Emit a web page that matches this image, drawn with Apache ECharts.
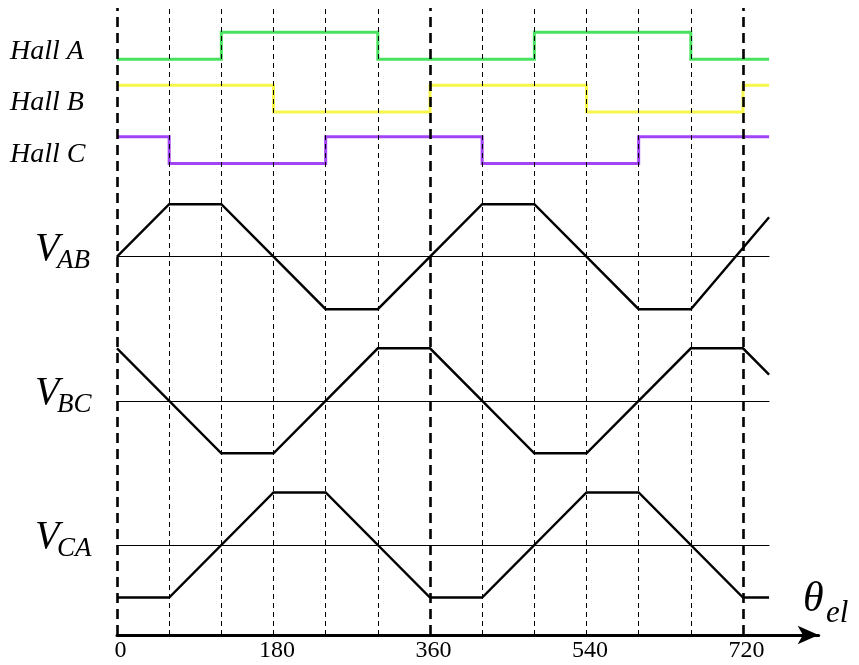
<!DOCTYPE html>
<html>
<head>
<meta charset="utf-8">
<script src="https://cdn.jsdelivr.net/npm/echarts@6/dist/echarts.min.js"></script>
<style>
  html, body { margin: 0; padding: 0; background: #fff; }
  #chart { width: 859px; height: 665px; }
</style>
</head>
<body>
<div id="chart"></div>
<script>
// ---- data (electrical angle in degrees, logic levels / normalised voltages) ----
const hallA = [[0,0],[120,1],[300,0],[480,1],[660,0],[750,0]];
const hallB = [[0,1],[180,0],[360,1],[540,0],[720,1],[750,1]];
const hallC = [[0,1],[60,0],[240,1],[420,0],[600,1],[750,1]];
const vAB = [[0,0],[60,1],[120,1],[240,-1],[300,-1],[420,1],[480,1],[600,-1],[660,-1],[750,0.75]];
const vBC = [[0,1],[120,-1],[180,-1],[300,1],[360,1],[480,-1],[540,-1],[660,1],[720,1],[750,0.5]];
const vCA = [[0,-1],[60,-1],[180,1],[240,1],[360,-1],[420,-1],[540,1],[600,1],[720,-1],[750,-1]];
const gridLines = [0,60,120,180,240,300,360,420,480,540,600,660,720];
const tickLabels = [0,180,360,540,720];
const hallNames = ['Hall A','Hall B','Hall C'];
const voltNames = [['V','AB'],['V','BC'],['V','CA']];

// ---- layout ----
const LEFT = 117;
const PX = 626 / 720;           // pixels per degree
const DATA_MAX = 750;
const AXIS_MAX = 807;
const SERIF = 'Liberation Serif';
const hallColors = ['#48e35e', '#f7f64a', '#a244f5'];

const traces = [
  { data: hallA, top: 32.3, height: 27, min: 0, max: 1, color: hallColors[0], width: 3, step: 'end', base: false },
  { data: hallB, top: 85.3, height: 26.7, min: 0, max: 1, color: hallColors[1], width: 3, step: 'end', base: false },
  { data: hallC, top: 136.7, height: 26.7, min: 0, max: 1, color: hallColors[2], width: 3, step: 'end', base: false },
  { data: vAB, top: 256.7 - 52.5, height: 105, min: -1, max: 1, color: '#000', width: 2.4, step: false, base: true },
  { data: vBC, top: 400.8 - 52.5, height: 105, min: -1, max: 1, color: '#000', width: 2.4, step: false, base: true },
  { data: vCA, top: 545 - 52.5, height: 105, min: -1, max: 1, color: '#000', width: 2.4, step: false, base: true }
];

const grids = [], xAxes = [], yAxes = [], series = [];
traces.forEach((t, i) => {
  grids.push({ left: LEFT, top: t.top, width: DATA_MAX * PX, height: t.height, containLabel: false });
  xAxes.push({
    gridIndex: i, type: 'value', min: 0, max: DATA_MAX,
    show: t.base,
    axisLine: { show: t.base, onZero: true, lineStyle: { color: '#000', width: 1 } },
    axisTick: { show: false }, axisLabel: { show: false }, splitLine: { show: false }
  });
  yAxes.push({ gridIndex: i, type: 'value', min: t.min, max: t.max, show: false, splitLine: { show: false } });
  series.push({
    type: 'line', xAxisIndex: i, yAxisIndex: i, data: t.data, step: t.step,
    showSymbol: false, symbol: 'none', clip: false, silent: true, animation: false,
    lineStyle: { color: t.color, width: t.width, join: 'miter', cap: 'butt' }, z: 3
  });
});

// full-height grid: dashed guides + main axis with arrow
const F = traces.length;
grids.push({ left: LEFT, top: 8, width: AXIS_MAX * PX, bottom: 30, containLabel: false });
xAxes.push({
  gridIndex: F, type: 'value', min: 0, max: AXIS_MAX, interval: 180,
  axisLine: { show: true, onZero: false, symbol: ['none', 'arrow'], symbolSize: [14, 21],
              lineStyle: { color: '#000', width: 3 } },
  axisTick: { show: false },
  splitLine: { show: false },
  axisLabel: {
    show: true, margin: 4, color: '#000', fontSize: 24, fontFamily: SERIF,
    padding: [0, 0, 0, 7],
    formatter: v => tickLabels.indexOf(v) >= 0 ? String(v) : ''
  }
});
yAxes.push({ gridIndex: F, type: 'value', min: 0, max: 1, show: false, splitLine: { show: false } });
series.push({
  type: 'line', xAxisIndex: F, yAxisIndex: F, data: [], silent: true, animation: false, z: 10,
  markLine: {
    silent: true, animation: false, symbol: ['none', 'none'], label: { show: false },
    data: gridLines.map(v => ({
      xAxis: v,
      lineStyle: v % 360 === 0
        ? { color: '#000', width: 2.6, type: [10, 6] }
        : { color: '#000', width: 1, type: [5, 4] }
    }))
  }
});

// text labels
function txt(str, x, yMid, size) {
  return { type: 'text', x: x, y: yMid, z: 20,
    style: { text: str, fontFamily: SERIF, fontStyle: 'italic', fontSize: size,
             fill: '#000', verticalAlign: 'middle', align: 'left' } };
}
const graphics = [];
const hallY = [52, 103, 155];
hallNames.forEach((n, i) => graphics.push(txt(n, 10, hallY[i], 28)));
const vMid = [249, 393, 537];
voltNames.forEach((n, i) => {
  graphics.push(txt(n[0], 35, vMid[i], 40));
  graphics.push(txt(n[1], 57, vMid[i] + 12, 27));
});
graphics.push(txt('θ', 803, 600, 42));
graphics.push(txt('el', 826, 614, 31));

const chart = echarts.init(document.getElementById('chart'), null, { renderer: 'canvas' });
chart.setOption({
  animation: false,
  backgroundColor: '#fff',
  grid: grids, xAxis: xAxes, yAxis: yAxes, series: series,
  graphic: graphics
});
</script>
</body>
</html>
